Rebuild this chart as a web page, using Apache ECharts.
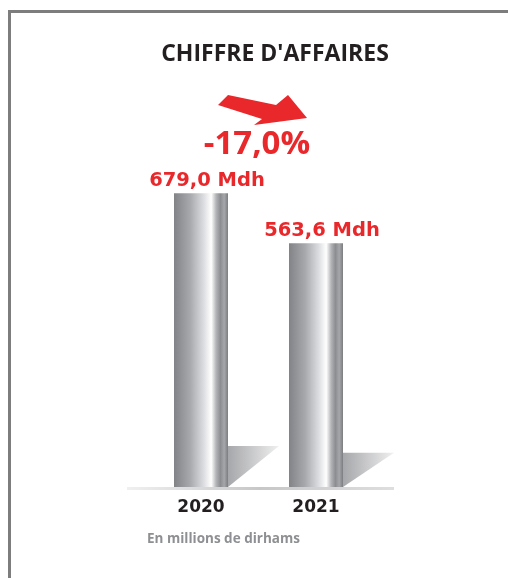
<!DOCTYPE html>
<html>
<head>
<meta charset="utf-8">
<script src="https://cdn.jsdelivr.net/npm/echarts@6/dist/echarts.min.js"></script>
<style>
  html, body { margin: 0; padding: 0; background: #fff; }
  #chart { width: 508px; height: 578px; }
</style>
</head>
<body>
<div id="chart"></div>
<script>
// Chiffre d'affaires, en millions de dirhams
const years = ["2020", "2021"];
const revenue = [679.0, 563.6];

const RED = "#e8282b";
const fmt = v => v.toFixed(1).replace(".", ",");
const change = (revenue[1] - revenue[0]) / revenue[0] * 100;

const chart = echarts.init(document.getElementById("chart"), null, { renderer: "canvas" });

// metallic cylinder look
const barFill = {
  type: "linear", x: 0, y: 0, x2: 1, y2: 0,
  colorStops: [
    { offset: 0, color: "#828387" },
    { offset: 0.3, color: "#a8a9ac" },
    { offset: 0.55, color: "#dcdde0" },
    { offset: 0.69, color: "#ffffff" },
    { offset: 0.78, color: "#b3b4b7" },
    { offset: 0.86, color: "#8c8d91" },
    { offset: 0.93, color: "#a6a7aa" },
    { offset: 1, color: "#7c7d81" },
  ],
};

const shadowFill = {
  type: "linear", x: 0, y: 0, x2: 1, y2: 0,
  colorStops: [
    { offset: 0, color: "#a6a7aa" },
    { offset: 1, color: "#f0f0f0" },
  ],
};

chart.setOption({
  backgroundColor: "#fff",
  animation: false,
  grid: { left: 143.5, right: 134.5, top: 141, bottom: 91 },
  xAxis: {
    type: "category",
    data: years,
    axisLine: { show: false },
    axisTick: { show: false },
    axisLabel: {
      margin: 12,
      color: "#231f20",
      fontFamily: "DejaVu Sans",
      fontWeight: "bold",
      fontSize: 17,
    },
  },
  yAxis: { type: "value", min: 0, max: 800, show: false, splitLine: { show: false } },
  series: [
    {
      type: "custom",
      data: revenue.map((v, i) => [i, v]),
      z: 1,
      renderItem(params, api) {
        const base = api.coord([api.value(0), 0]);
        const top = api.coord([api.value(0), api.value(1)]);
        const xr = base[0] + 27;
        const h = (base[1] - top[1]) * 0.14;
        return {
          type: "polygon",
          shape: { points: [[xr, base[1]], [xr, base[1] - h], [xr + 51, base[1] - h]] },
          style: { fill: shadowFill },
        };
      },
    },
    {
      type: "bar",
      data: revenue,
      barWidth: 54,
      z: 2,
      itemStyle: { color: barFill },
      label: {
        show: true,
        position: "top",
        distance: 2,
        offset: [6, 0],
        color: RED,
        fontFamily: "DejaVu Sans",
        fontWeight: "bold",
        fontSize: 19.5,
        formatter: p => fmt(p.value) + " Mdh",
      },
    },
  ],
  graphic: [
    {
      type: "rect",
      shape: { x: 9.5, y: 11.5, width: 560, height: 640 },
      style: { fill: "none", stroke: "#7d7d7d", lineWidth: 3 },
      silent: true,
    },
    {
      type: "rect",
      shape: { x: 127, y: 487, width: 267, height: 3 },
      style: {
        fill: {
          type: "linear", x: 0, y: 0, x2: 1, y2: 0,
          colorStops: [
            { offset: 0, color: "#f0f0f0" },
            { offset: 0.5, color: "#c6c7c9" },
            { offset: 1, color: "#dededf" },
          ],
        },
      },
      z: 0,
    },
    {
      type: "text",
      x: 275, y: 54,
      style: {
        text: "CHIFFRE D'AFFAIRES",
        fill: "#231f20",
        font: "bold 23px 'Open Sans'",
        textAlign: "center",
        textVerticalAlign: "middle",
      },
    },
    {
      type: "polygon",
      shape: { points: [[228, 95], [276, 105], [288, 95], [307, 118], [254, 125], [262, 119], [218, 105]] },
      style: { fill: RED },
    },
    {
      type: "text",
      x: 257, y: 145,
      style: {
        text: fmt(change) + "%",
        fill: RED,
        font: "bold 33px 'Open Sans'",
        textAlign: "center",
        textVerticalAlign: "middle",
      },
    },
    {
      type: "text",
      x: 147, y: 539,
      style: {
        text: "En millions de dirhams",
        fill: "#8e8f92",
        font: "bold 13.5px 'Open Sans'",
        textAlign: "left",
        textVerticalAlign: "middle",
      },
    },
  ],
});
</script>
</body>
</html>
